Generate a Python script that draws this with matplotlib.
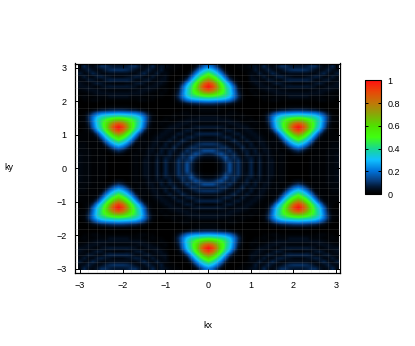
import numpy as np
import matplotlib
matplotlib.use("Agg")
import matplotlib.pyplot as plt
from matplotlib.colors import LinearSegmentedColormap

plt.rcParams['font.family'] = ['Liberation Sans', 'DejaVu Sans']

# intensity in percent, one quadrant (kx, ky = 0 .. 3 in steps of 0.1)
kx_quadrant = [i / 10 for i in range(31)]
ky_quadrant = [i / 10 for i in range(31)]
quadrant = [
    [0, 0, 1, 3, 7, 14, 6, 10, 4, 3, 8, 2, 6, 2, 4, 4, 1, 2, 1, 0, 0, 0, 0, 0, 1, 1, 1, 1, 2, 2, 3],
    [0, 0, 1, 3, 7, 14, 6, 10, 4, 3, 8, 2, 6, 2, 4, 4, 1, 2, 1, 0, 0, 0, 0, 0, 1, 1, 1, 1, 2, 2, 3],
    [1, 1, 3, 5, 11, 10, 7, 10, 4, 4, 8, 3, 6, 2, 4, 4, 1, 2, 1, 0, 0, 0, 0, 0, 1, 1, 1, 1, 2, 2, 3],
    [3, 3, 5, 9, 14, 8, 9, 7, 3, 5, 6, 3, 5, 2, 4, 3, 1, 2, 1, 0, 0, 0, 0, 0, 1, 1, 1, 1, 2, 2, 3],
    [7, 8, 11, 14, 9, 7, 9, 4, 3, 7, 3, 5, 4, 3, 4, 2, 1, 2, 1, 0, 2, 3, 2, 0, 0, 1, 1, 1, 2, 2, 3],
    [14, 14, 10, 8, 7, 10, 5, 3, 5, 6, 3, 6, 2, 4, 4, 2, 2, 1, 1, 3, 7, 10, 7, 3, 1, 1, 1, 1, 2, 2, 2],
    [6, 6, 7, 9, 9, 5, 3, 4, 8, 3, 5, 4, 3, 4, 3, 1, 2, 1, 3, 10, 18, 22, 18, 10, 3, 1, 1, 1, 1, 2, 2],
    [10, 10, 9, 7, 4, 3, 4, 7, 4, 3, 6, 2, 4, 4, 2, 2, 2, 2, 10, 21, 29, 34, 29, 21, 10, 2, 1, 1, 1, 2, 2],
    [4, 4, 4, 3, 3, 5, 8, 4, 3, 6, 3, 3, 4, 3, 1, 2, 1, 7, 20, 31, 40, 47, 40, 31, 20, 7, 1, 1, 1, 1, 1],
    [3, 3, 4, 5, 7, 6, 3, 3, 6, 3, 3, 4, 4, 2, 1, 1, 4, 16, 30, 42, 52, 60, 52, 42, 30, 16, 4, 1, 1, 1, 1],
    [8, 8, 8, 6, 3, 3, 5, 6, 3, 3, 4, 4, 2, 1, 1, 3, 11, 26, 40, 53, 68, 76, 68, 53, 40, 26, 11, 3, 1, 1, 1],
    [2, 2, 3, 3, 5, 6, 4, 2, 3, 4, 4, 2, 1, 1, 2, 9, 24, 37, 50, 68, 84, 92, 84, 68, 50, 37, 24, 9, 2, 1, 0],
    [6, 6, 6, 5, 4, 2, 3, 4, 4, 4, 2, 1, 1, 1, 4, 17, 31, 42, 56, 76, 92, 100, 92, 76, 56, 42, 31, 17, 4, 1, 0],
    [2, 2, 2, 3, 3, 4, 4, 4, 3, 2, 1, 2, 1, 1, 6, 19, 33, 44, 56, 70, 82, 88, 82, 70, 56, 44, 33, 19, 6, 1, 1],
    [4, 4, 4, 4, 4, 4, 3, 2, 1, 1, 2, 1, 1, 2, 8, 21, 34, 43, 50, 58, 65, 68, 65, 58, 50, 43, 34, 21, 8, 2, 1],
    [4, 4, 4, 3, 3, 2, 1, 1, 2, 1, 1, 0, 1, 2, 9, 20, 30, 36, 40, 42, 44, 45, 44, 42, 40, 36, 30, 20, 9, 2, 1],
    [1, 1, 1, 1, 1, 2, 2, 1, 1, 0, 0, 0, 0, 1, 5, 12, 19, 23, 25, 26, 27, 28, 27, 26, 25, 23, 19, 12, 5, 1, 0],
    [2, 2, 2, 1, 1, 1, 1, 0, 0, 0, 0, 0, 0, 0, 1, 3, 5, 7, 8, 9, 10, 10, 10, 9, 8, 7, 5, 3, 1, 0, 0],
    [2, 2, 2, 1, 1, 0, 0, 0, 0, 0, 0, 0, 0, 0, 0, 0, 0, 1, 1, 2, 2, 2, 2, 2, 1, 1, 0, 0, 0, 0, 0],
    [10, 10, 9, 8, 7, 5, 3, 1, 0, 0, 0, 0, 0, 0, 0, 0, 0, 0, 0, 0, 0, 0, 0, 0, 0, 0, 0, 0, 0, 0, 0],
    [28, 27, 26, 25, 23, 19, 12, 5, 1, 0, 0, 0, 0, 1, 1, 2, 2, 1, 1, 1, 1, 1, 1, 1, 1, 1, 2, 2, 1, 1, 0],
    [45, 44, 42, 40, 36, 30, 20, 9, 2, 0, 0, 1, 1, 2, 1, 1, 2, 2, 2, 4, 4, 4, 4, 4, 2, 2, 2, 1, 1, 2, 1],
    [68, 65, 58, 50, 43, 34, 21, 8, 2, 0, 1, 2, 1, 1, 2, 3, 4, 4, 4, 4, 4, 4, 4, 4, 4, 4, 4, 3, 2, 1, 1],
    [88, 82, 70, 56, 44, 33, 19, 6, 1, 0, 2, 1, 2, 3, 4, 4, 4, 3, 3, 2, 2, 2, 2, 2, 3, 3, 4, 4, 4, 3, 2],
    [100, 92, 76, 56, 42, 31, 17, 4, 1, 0, 1, 2, 4, 4, 4, 3, 2, 4, 5, 6, 6, 6, 6, 6, 5, 4, 2, 3, 4, 4, 4],
    [92, 84, 68, 50, 37, 24, 9, 2, 0, 0, 2, 4, 4, 3, 2, 4, 6, 5, 3, 3, 2, 2, 2, 3, 3, 5, 6, 4, 2, 3, 4],
    [76, 68, 53, 40, 26, 11, 3, 1, 0, 0, 4, 4, 3, 3, 6, 5, 3, 3, 6, 8, 8, 8, 8, 8, 6, 3, 3, 5, 6, 3, 3],
    [60, 52, 42, 30, 16, 4, 1, 0, 0, 0, 4, 3, 3, 6, 3, 3, 6, 7, 5, 4, 3, 3, 3, 4, 5, 7, 6, 3, 3, 6, 3],
    [47, 40, 31, 20, 7, 1, 0, 0, 0, 1, 3, 3, 6, 3, 4, 8, 5, 3, 3, 4, 4, 4, 4, 4, 3, 3, 5, 8, 4, 3, 6],
    [34, 29, 21, 10, 2, 0, 0, 0, 1, 1, 2, 6, 3, 4, 7, 4, 3, 4, 7, 9, 10, 10, 10, 9, 7, 4, 3, 4, 7, 4, 3],
    [22, 18, 10, 3, 0, 0, 0, 1, 1, 2, 4, 5, 3, 8, 4, 3, 5, 9, 9, 7, 6, 6, 6, 7, 9, 9, 5, 3, 4, 8, 3],
]
x_ticks = [-3, -2, -1, 0, 1, 2, 3]
y_ticks = [-3, -2, -1, 0, 1, 2, 3]
bar_ticks = [0, 0.2, 0.4, 0.6, 0.8, 1]
bar_labels = ['0', '0.2', '0.4', '0.6', '0.8', '1']

# colours
bar_stops = [0, 0.03, 0.07, 0.12, 0.2, 0.3, 0.4, 0.5, 0.6, 0.7, 0.8, 0.9, 1]
bar_colors = ['#000000', '#010812', '#031c3c', '#083f80', '#0070d8', '#10c0ff', '#18d890', '#40ff10',
              '#50e000', '#88a808', '#c07808', '#e84808', '#ff1010']

# the picture is symmetric in kx and ky, so mirror the quadrant
q = np.array(quadrant) / 100
right = np.hstack([q[:, :0:-1], q])
z = np.vstack([right[:0:-1], right])

W, H = 415, 346
fig = plt.figure(figsize=(W / 100, H / 100), dpi=100)
ax = fig.add_axes([74.7 / W, 1 - 272.7 / H, (340 - 74.7) / W, (272.7 - 63.5) / H])
cmap = LinearSegmentedColormap.from_list('bar', list(zip(bar_stops, bar_colors)), N=512)
img = ax.imshow(z, cmap=cmap, vmin=0, vmax=1, origin='lower', aspect='auto',
                extent=[-3.05, 3.05, -3.05, 3.05], interpolation='bilinear')
ax.set_xlim(-3.12, 3.09)
ax.set_ylim(-3.12, 3.13)

ax.set_xticks(x_ticks)
ax.set_yticks(y_ticks)
ax.set_xticks(kx_quadrant[::2] + [-v for v in kx_quadrant[2::2]], minor=True)
ax.set_yticks(ky_quadrant[::2] + [-v for v in ky_quadrant[2::2]], minor=True)
ax.grid(which='minor', color='#a0a0a0', alpha=0.2, linewidth=0.5)
ax.tick_params(which='minor', length=0)
ax.tick_params(which='major', direction='in', top=True, right=True, length=3, width=0.7,
               labelsize=6.5, pad=6, color='black')
ax.set_axisbelow(False)
for s in ax.spines.values():
    s.set_linewidth(0.9)

fig.text(208 / W, 1 - 326 / H, 'kx', fontsize=6.5, ha='center', va='center')
fig.text(9 / W, 1 - 168 / H, 'ky', fontsize=6.5, ha='center', va='center')

cax = fig.add_axes([364.5 / W, 1 - 194 / H, 16 / W, 113.7 / H])
cb = fig.colorbar(img, cax=cax)
cb.set_ticks(bar_ticks, labels=bar_labels)
cb.ax.tick_params(direction='in', left=True, right=True, length=2, width=0.7, labelsize=6.5, pad=5)
cb.outline.set_linewidth(0.8)

fig.savefig('out.png', dpi=100)
